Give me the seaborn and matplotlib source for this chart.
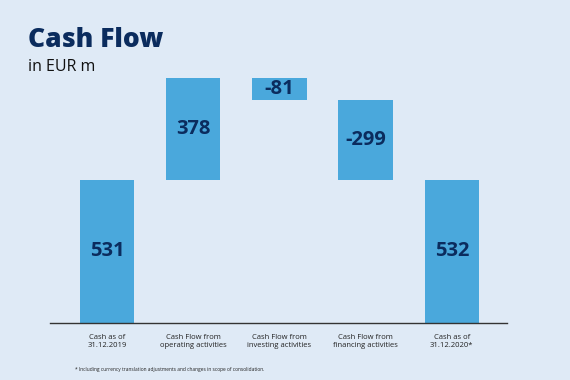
import numpy as np
import pandas as pd
import seaborn as sns
import matplotlib.pyplot as plt

# data
categories = ['Cash as of\n31.12.2019', 'Cash Flow from\noperating activities',
              'Cash Flow from\ninvesting activities', 'Cash Flow from\nfinancing activities',
              'Cash as of\n31.12.2020*']
values = [531, 378, -81, -299, 532]
is_total = [True, False, False, False, True]

# waterfall bottoms / heights
bottoms = []
heights = []
running = 0
for v, tot in zip(values, is_total):
    if tot:
        bottoms.append(0)
        heights.append(v)
        running = v
    else:
        if v >= 0:
            bottoms.append(running)
        else:
            bottoms.append(running + v)
        heights.append(abs(v))
        running += v

df = pd.DataFrame({'category': categories, 'height': heights, 'bottom': bottoms, 'value': values})

bg = '#dfeaf6'
bar_col = '#4aa8dc'
navy = '#0b2c5e'

sns.set_theme(style='white')
plt.rcParams['font.family'] = ['Open Sans', 'DejaVu Sans']

fig = plt.figure(figsize=(5.7, 3.8), dpi=100)
fig.patch.set_facecolor(bg)
ax = fig.add_axes([50 / 570, 57 / 380, 457 / 570, 263 / 380])
ax.set_facecolor(bg)

sns.barplot(data=df, x='category', y='height', bottom=df['bottom'].values,
            color=bar_col, saturation=1, width=0.63, linewidth=0, ax=ax)

for i, row in df.iterrows():
    ax.text(i, row['bottom'] + row['height'] / 2, f"{row['value']}",
            ha='center', va='center', fontsize=14.5, fontweight='bold', color=navy)

ax.set_xlim(-0.66, 4.64)
ax.set_ylim(0, 976)
ax.set_xlabel('')
ax.set_ylabel('')
ax.set_yticks([])
for s in ['top', 'right', 'left']:
    ax.spines[s].set_visible(False)
ax.spines['bottom'].set_color('#333333')
ax.spines['bottom'].set_linewidth(1)
ax.tick_params(axis='x', length=0, pad=8, labelsize=5.5, labelcolor='#222222')

fig.text(28 / 570, 1 - 47 / 380, 'Cash Flow', fontsize=19, fontweight='heavy',
         color=navy, ha='left', va='baseline')
fig.text(28 / 570, 1 - 71 / 380, 'in EUR m', fontsize=11.5, color='#111111',
         ha='left', va='baseline')
fig.text(75 / 570, 1 - 371 / 380,
         '* Including currency translation adjustments and changes in scope of consolidation.',
         fontsize=3.5, color='#222222', ha='left', va='baseline')

fig.savefig('out.png', dpi=100, facecolor=bg)
